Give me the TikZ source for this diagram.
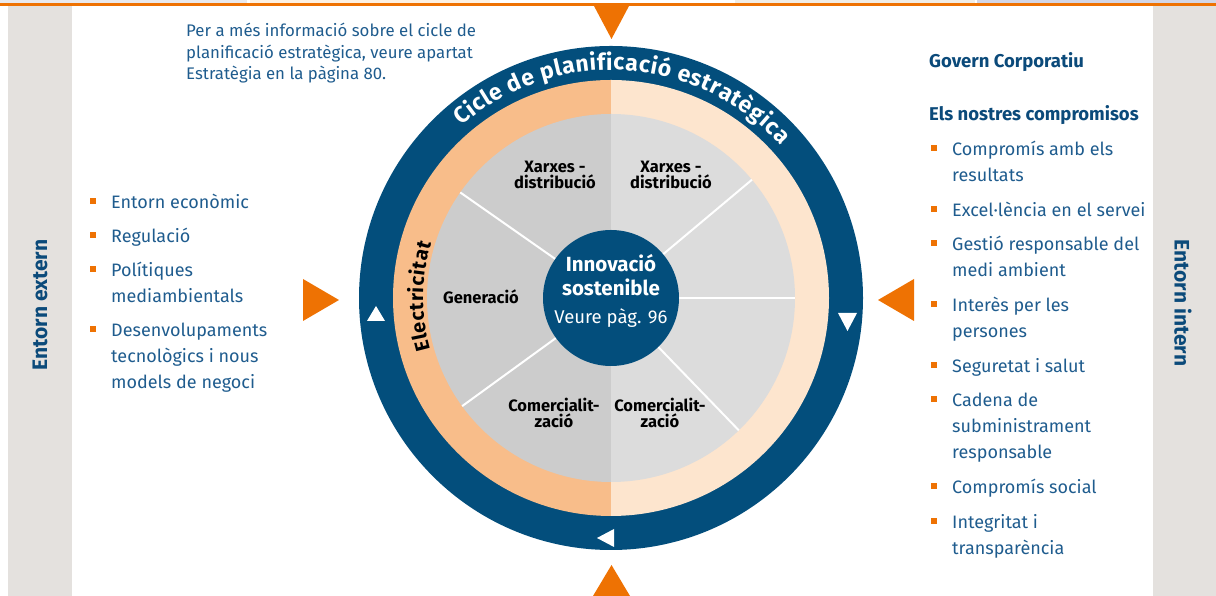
\documentclass[tikz,border=0pt]{standalone}
\usepackage{fontspec}
\setmainfont{Fira Sans}
\usetikzlibrary{decorations.text}
\definecolor{navy}{HTML}{034E7C}
\definecolor{headblue}{HTML}{0B4A7A}
\definecolor{textblue}{HTML}{1F5C8E}
\definecolor{accent}{HTML}{EE7203}
\definecolor{peachdark}{HTML}{F8BD8A}
\definecolor{peachlight}{HTML}{FDE5CE}
\definecolor{grayL}{HTML}{CCCCCC}
\definecolor{grayR}{HTML}{DCDCDC}
\definecolor{panel}{HTML}{E4E1DE}
\definecolor{stripA}{HTML}{E9E9ED}
\definecolor{stripB}{HTML}{FDF1E3}
\definecolor{stripC}{HTML}{F1EDE6}
\definecolor{stripD}{HTML}{D3D6E6}
\newcommand{\itemrows}[1]{\begin{tabular}[t]{@{}l@{}}#1\end{tabular}} % baseline = first line
\tikzset{
    sidetitle/.style={font=\bfseries\fontsize{21}{21}\selectfont, text=headblue, inner sep=0pt}, % grey side panels
    headtext/.style={anchor=base west, font=\bfseries\fontsize{18.5}{18.5}\selectfont, text=headblue, inner sep=0pt},
    listtext/.style={anchor=base west, inner sep=0pt, font=\fontsize{18}{26}\selectfont, text=textblue},
    notetext/.style={anchor=base west, inner sep=0pt, font=\fontsize{16.8}{21.5}\selectfont, text=textblue},
    bulletbox/.style={fill=accent, minimum size=6pt, inner sep=0pt},
    wedge/.style={align=center, font=\bfseries\fontsize{16.5}{16.5}\selectfont, inner sep=0pt},
    divider/.style={white, line width=2pt},
    hub/.style={circle, fill=navy, minimum size=136pt, inner sep=0pt},
}
\begin{document}
\begin{tikzpicture}[x=1pt,y=1pt]
  \useasboundingbox (0,0) rectangle (1216,596);

  % top strip and rule
  \fill[stripA] (0,592) rectangle (247,596);
  \fill[stripB] (250,592) rectangle (490,596);
  \fill[stripC] (735,592) rectangle (975,596);
  \fill[stripD] (977,592) rectangle (1216,596);
  \fill[accent] (0,589.5) rectangle (1216,592.5);

  % side panels
  \fill[panel] (8,0) rectangle (72,589.5);
  \fill[panel] (1153,0) rectangle (1216,589.5);
  \node[sidetitle, rotate=90]  (ext) at (40,291)   {Entorn extern};
  \node[sidetitle, rotate=-90] (int) at (1183,293) {Entorn intern};

  % wheel
  \coordinate (C) at (611,298);
  \fill[navy] (C) circle[radius=252];
  \fill[peachdark]  (C) -- ++(90:218)  arc[start angle=90,  end angle=270, radius=218] -- cycle;
  \fill[peachlight] (C) -- ++(-90:218) arc[start angle=-90, end angle=90,  radius=218] -- cycle;
  \fill[grayL] (C) -- ++(90:184)  arc[start angle=90,  end angle=270, radius=184] -- cycle;
  \fill[grayR] (C) -- ++(-90:184) arc[start angle=-90, end angle=90,  radius=184] -- cycle;
  \foreach \a in {145,40,0,216,314}
    \draw[divider] (C) -- ++(\a:184);
  \node[hub] (hub) at (C) {};

  % ring texts
  \path[decorate, decoration={text along path, text align=fit to path, text color=white,
      text={|\bfseries\fontsize{23}{23}\selectfont|Cicle de planificació estratègica}}]
    (C) ++(131:228) arc[start angle=131, end angle=42, radius=228];
  \path[decorate, decoration={text along path, text align=fit to path,
      text={|\bfseries\fontsize{20}{20}\selectfont|Electricitat}}]
    (C) ++(196:188) arc[start angle=196, end angle=163, radius=188];

  % wedge labels
  \node[wedge] (xl) at (555,421) {Xarxes -\\distribució};
  \node[wedge] (xr) at (671,421) {Xarxes -\\distribució};
  \node[wedge] (gen) at (481,299) {Generació};
  \node[wedge] (cl) at (554,183) {Comercialit-\\zació};
  \node[wedge] (cr) at (660,183) {Comercialit-\\zació};

  % hub texts
  \node[text=white, font=\bfseries\fontsize{20.5}{20.5}\selectfont] (in1) at (611,333) {Innovació};
  \node[text=white, font=\bfseries\fontsize{20.5}{20.5}\selectfont] (in2) at (611,309) {sostenible};
  \node[text=white, font=\fontsize{18.5}{18.5}\selectfont] (in3) at (611,278) {Veure pàg. 96};

  % cycle markers on the ring
  \fill[white] (367,275) -- (385,275) -- (376,290) -- cycle;
  \fill[white] (838,283) -- (857,283) -- (847.5,265) -- cycle;
  \fill[white] (614,67) -- (614,49) -- (597,58) -- cycle;

  % orange arrows
  \fill[accent] (594,590) -- (629,590) -- (611.5,557) -- cycle;
  \fill[accent] (593,0) -- (630,0) -- (611.5,31) -- cycle;
  \fill[accent] (303,317) -- (303,275) -- (339,296) -- cycle;
  \fill[accent] (914,317) -- (914,275) -- (878,296) -- cycle;

  % note
  \node[notetext] (note) at (186,559) {\itemrows{Per a més informació sobre el cicle de\\planificació estratègica, veure apartat\\Estratègia en la pàgina 80.}};

  % external list
  \foreach \yy/\txt [count=\i] in {387/{Entorn econòmic}, 353/{Regulació},
      319/{Polítiques\\mediambientals},
      259/{Desenvolupaments\\tecnològics i nous\\models de negoci}}{
    \node[bulletbox] (eb\i) at (93,\yy+7.5) {};
    \node[listtext] (et\i) at (111,\yy) {\itemrows{\txt}};
  }

  % internal list
  \node[headtext] (gov) at (929,528) {Govern Corporatiu};
  \node[headtext] (com) at (929,475) {Els nostres compromisos};
  \foreach \yy/\txt [count=\i] in {440/{Compromís amb els\\resultats},
      379/{Excel·lència en el servei},
      345/{Gestió responsable del\\medi ambient},
      284/{Interès per les\\persones},
      223/{Seguretat i salut},
      189/{Cadena de\\subministrament\\responsable},
      102/{Compromís social},
      67/{Integritat i\\transparència}}{
    \node[bulletbox] (ib\i) at (934,\yy+7.5) {};
    \node[listtext] (it\i) at (952,\yy) {\itemrows{\txt}};
  }
\end{tikzpicture}
\end{document}
